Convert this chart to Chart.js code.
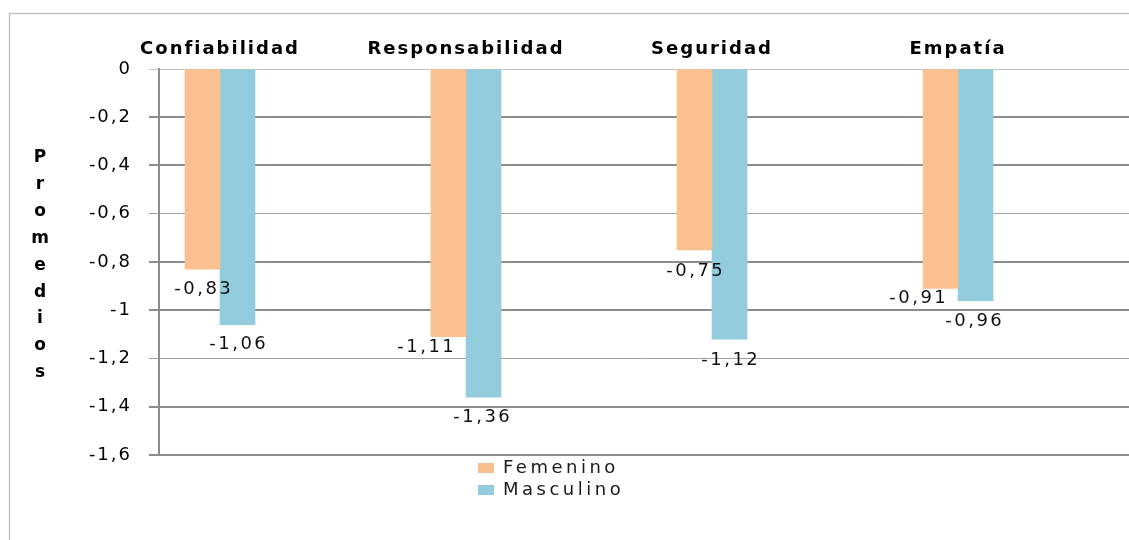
<!DOCTYPE html>
<html lang="es">
<head>
<meta charset="utf-8">
<title>Promedios por dimensión y sexo</title>
<script src="https://cdn.jsdelivr.net/npm/chart.js@4.4.1/dist/chart.umd.min.js"></script>
<style>
  html, body { margin: 0; padding: 0; background: #ffffff; }
  canvas { display: block; }
</style>
</head>
<body>
<canvas id="chart" width="1129" height="540"></canvas>
<script>
// Dimensions (categories) and the mean scores per group
const categories = ['Confiabilidad', 'Responsabilidad', 'Seguridad', 'Empatía'];
const femenino   = [-0.83, -1.11, -0.75, -0.91];
const masculino  = [-1.06, -1.36, -1.12, -0.96];

// Value axis ticks and their printed labels (decimal comma)
const yTickValues = [0, -0.2, -0.4, -0.6, -0.8, -1, -1.2, -1.4, -1.6];
const yTickLabels = ['0', '-0,2', '-0,4', '-0,6', '-0,8', '-1', '-1,2', '-1,4', '-1,6'];

const seriesNames  = ['Femenino', 'Masculino'];
const seriesValues = [femenino, masculino];
const axisTitle    = 'Promedios';

const FONT = '"DejaVu Sans", "Liberation Sans", sans-serif';
const seriesColors = ['#FAC090', '#93CDDD'];

// Label nudges (dx, dy from the bar end) per series and category
const labelNudges = [
  [[0, 20], [-23, 11], [0, 21], [-23, 10]],
  [[0, 20], [-2, 20], [0, 21], [-2, 21]]
];
// Grid lines drawn lighter/thinner
const lightLines = [-0.6, -1.2];
const isLight = v => lightLines.some(l => Math.abs(l - v) < 1e-9);

const textSpacing = {
  id: 'textSpacing',
  beforeLayout(chart) { chart.ctx.letterSpacing = '2px'; },
  beforeDraw(chart) { chart.ctx.letterSpacing = '2px'; }
};

const frame = {
  id: 'frame',
  beforeDraw(chart) {
    const ctx = chart.ctx;
    ctx.save();
    ctx.strokeStyle = '#c3c3c3';
    ctx.lineWidth = 1.5;
    ctx.beginPath();
    ctx.moveTo(9.5, chart.height);
    ctx.lineTo(9.5, 13.5);
    ctx.lineTo(chart.width, 13.5);
    ctx.stroke();
    ctx.restore();
  }
};

const valueLabels = {
  id: 'valueLabels',
  afterDatasetsDraw(chart) {
    const ctx = chart.ctx;
    ctx.save();
    ctx.letterSpacing = '2.5px';
    ctx.font = '18px ' + FONT;
    ctx.fillStyle = '#111111';
    ctx.textAlign = 'center';
    ctx.textBaseline = 'middle';
    chart.data.datasets.forEach((ds, s) => {
      chart.getDatasetMeta(s).data.forEach((bar, i) => {
        const v = seriesValues[s][i];
        const [dx, dy] = labelNudges[s][i];
        ctx.fillText(v.toFixed(2).replace('.', ','), bar.x + dx + 1.25, bar.y + dy);
      });
    });
    ctx.restore();
  }
};

const verticalTitle = {
  id: 'verticalTitle',
  afterDraw(chart) {
    const ctx = chart.ctx;
    ctx.save();
    ctx.letterSpacing = '0px';
    ctx.font = 'bold 17px ' + FONT;
    ctx.fillStyle = '#000000';
    ctx.textAlign = 'center';
    ctx.textBaseline = 'alphabetic';
    axisTitle.split('').forEach((ch, i) => ctx.fillText(ch, 40, 162 + i * 26.9));
    ctx.restore();
  }
};

const stackedLegend = {
  id: 'stackedLegend',
  afterDraw(chart) {
    const ctx = chart.ctx;
    ctx.save();
    ctx.letterSpacing = '3.5px';
    ctx.font = '18px ' + FONT;
    ctx.textAlign = 'left';
    ctx.textBaseline = 'middle';
    chart.data.datasets.forEach((ds, s) => {
      const y = 463 + s * 22;
      ctx.fillStyle = ds.backgroundColor;
      ctx.fillRect(478, y, 16, 10);
      ctx.fillStyle = '#1a1a1a';
      ctx.fillText(ds.label, 503, y + 5);
    });
    ctx.restore();
  }
};

new Chart(document.getElementById('chart'), {
  type: 'bar',
  data: {
    datasets: seriesNames.map((name, s) => ({
      label: name,
      data: seriesValues[s].map((v, i) => ({ x: i, y: v })),
      backgroundColor: seriesColors[s],
      borderWidth: 0,
      barThickness: 35
    }))
  },
  options: {
    responsive: false,
    devicePixelRatio: 1,
    animation: false,
    events: [],
    layout: { padding: { left: 0, top: 0, right: 0, bottom: 85 } },
    plugins: {
      legend: { display: false },
      tooltip: { enabled: false }
    },
    scales: {
      x: {
        type: 'linear',
        position: 'top',
        offset: false,
        min: -0.248,
        max: 3.695,
        afterFit(scale) { scale.height = 69; },
        afterBuildTicks(scale) { scale.ticks = categories.map((_, i) => ({ value: i })); },
        grid: { display: false, drawTicks: false, offset: false },
        border: { display: true, color: '#c3c3c3', width: 1 },
        ticks: {
          autoSkip: false,
          maxRotation: 0,
          padding: 9,
          color: '#000000',
          font: { family: FONT, size: 18, weight: 'bold' },
          callback: v => categories[v] ?? ''
        }
      },
      y: {
        min: -1.6,
        max: 0,
        afterFit(scale) { scale.width = 159; },
        afterBuildTicks(scale) {
          scale.ticks = yTickValues.slice().sort((a, b) => a - b).map(v => ({ value: v }));
        },
        grid: {
          color: c => (c.tick && c.tick.value === 0) ? '#c3c3c3' : (c.tick && isLight(c.tick.value) ? '#a0a0a0' : '#8c8c8c'),
          lineWidth: c => (c.tick && (c.tick.value === 0 || isLight(c.tick.value))) ? 1 : 2,
          tickLength: 10,
          drawTicks: true
        },
        border: { color: '#8c8c8c', width: 2 },
        ticks: {
          padding: 17,
          color: '#000000',
          font: { family: FONT, size: 18 },
          callback: v => yTickLabels[yTickValues.indexOf(v)]
        }
      }
    }
  },
  plugins: [textSpacing, frame, valueLabels, verticalTitle, stackedLegend]
});
</script>
</body>
</html>
